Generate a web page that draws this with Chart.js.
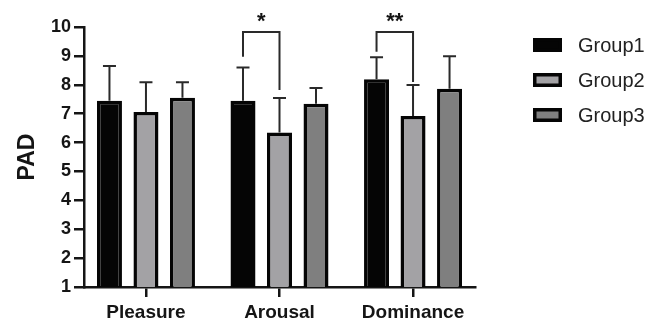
<!DOCTYPE html>
<html><head><meta charset="utf-8">
<script src="https://cdn.jsdelivr.net/npm/chart.js@4/dist/chart.umd.min.js"></script>
<style>html,body{margin:0;padding:0;background:#fff;overflow:hidden}#wrap{width:647px;height:323px}</style>
</head><body><div id="wrap"><canvas id="c" width="647" height="323"></canvas></div>
<script>
const categories = ['Pleasure', 'Arousal', 'Dominance'];
const groupNames = ['Group1', 'Group2', 'Group3'];
const group1Mean = [7.45, 7.45, 8.19];
const group2Mean = [7.06, 6.35, 6.92];
const group3Mean = [7.55, 7.34, 7.86];
const group1SD = [1.20, 1.15, 0.76];
const group2SD = [1.03, 1.19, 1.07];
const group3SD = [0.54, 0.55, 1.13];
const yTickValues = [1, 2, 3, 4, 5, 6, 7, 8, 9, 10];
const yTitle = 'PAD';
// significance brackets (between Group1 and Group2)
const sigCategory = [1, 2];
const sigLabel = ['*', '**'];
const sigTop = [9.83, 9.83];
const sigLeftFoot = [8.97, 9.14];
const sigRightFoot = [7.82, 8.10];

const FONT = '"Liberation Sans", Arial, Helvetica, sans-serif';
const INK = '#151515';
const fills = ['#050505', '#a3a2a5', '#7f7f7f'];
const means = [group1Mean, group2Mean, group3Mean];
const sds = [group1SD, group2SD, group3SD];
const catIndex = categories.map((c, i) => i);

const errorBarPlugin = {
  id: 'errorBars',
  afterDatasetsDraw(chart) {
    const ctx = chart.ctx, ys = chart.scales.y;
    ctx.save();
    ctx.strokeStyle = '#2a2a2a';
    ctx.lineWidth = 2;
    chart.data.datasets.forEach((ds, i) => {
      const meta = chart.getDatasetMeta(i);
      meta.data.forEach((el, j) => {
        const top = ys.getPixelForValue(means[i][j] + sds[i][j]);
        ctx.beginPath();
        ctx.moveTo(el.x, el.y);
        ctx.lineTo(el.x, top);
        ctx.moveTo(el.x - 6.5, top);
        ctx.lineTo(el.x + 6.5, top);
        ctx.stroke();
      });
    });
    sigCategory.forEach((c, k) => {
      const a = chart.getDatasetMeta(0).data[c];
      const b = chart.getDatasetMeta(1).data[c];
      const yt = ys.getPixelForValue(sigTop[k]);
      ctx.beginPath();
      ctx.moveTo(a.x, ys.getPixelForValue(sigLeftFoot[k]));
      ctx.lineTo(a.x, yt);
      ctx.lineTo(b.x, yt);
      ctx.lineTo(b.x, ys.getPixelForValue(sigRightFoot[k]));
      ctx.stroke();
      ctx.fillStyle = INK;
      ctx.font = 'bold 22px ' + FONT;
      ctx.textAlign = 'center';
      ctx.textBaseline = 'alphabetic';
      ctx.fillText(sigLabel[k], (a.x + b.x) / 2, yt - 4);
    });
    ctx.restore();
  }
};

const legendPlugin = {
  id: 'sideLegend',
  afterDraw(chart) {
    const ctx = chart.ctx;
    ctx.save();
    chart.data.datasets.forEach((ds, i) => {
      const cy = 45 + 35 * i;
      ctx.fillStyle = '#050505';
      ctx.fillRect(533, cy - 7, 29, 14);
      ctx.fillStyle = ds.backgroundColor;
      ctx.fillRect(536.5, cy - 3.5, 22, 7);
      ctx.fillStyle = '#222';
      ctx.font = '20px ' + FONT;
      ctx.textAlign = 'left';
      ctx.textBaseline = 'middle';
      ctx.fillText(ds.label, 578, cy + 1);
    });
    ctx.restore();
  }
};

new Chart(document.getElementById('c'), {
  type: 'bar',
  data: {
    datasets: groupNames.map((g, i) => ({
      label: g,
      data: catIndex.map(j => ({ x: j, y: means[i][j] })),
      backgroundColor: fills[i],
      borderColor: '#050505',
      borderWidth: 3.5,
      borderSkipped: false,
      categoryPercentage: 0.82,
      barPercentage: 0.685
    }))
  },
  options: {
    responsive: false,
    animation: false,
    devicePixelRatio: 1,
    layout: { padding: { top: 27, right: 172, bottom: 0, left: 0 } },
    plugins: { legend: { display: false }, tooltip: { enabled: false } },
    scales: {
      x: {
        type: 'linear',
        min: -0.464, max: 2.464,
        offset: false,
        afterFit(s) { s.height = 36; },
        afterBuildTicks(s) { s.ticks = catIndex.map(v => ({ value: v })); },
        grid: { offset: false, drawOnChartArea: false, tickLength: 10, color: INK, lineWidth: 2.5 },
        border: { color: INK, width: 2.5 },
        ticks: {
          color: INK, font: { family: FONT, size: 19, weight: 'bold' }, padding: 4, maxRotation: 0, autoSkip: false,
          callback: (v) => categories[v]
        }
      },
      y: {
        min: 1, max: 10,
        afterFit(s) { s.width = 84; },
        afterBuildTicks(s) { s.ticks = yTickValues.map(v => ({ value: v })); },
        grid: { drawOnChartArea: false, tickLength: 10, color: INK, lineWidth: 2.5 },
        border: { color: INK, width: 2.5 },
        ticks: { color: INK, font: { family: FONT, size: 18, weight: 'bold' }, padding: 3 },
        title: { display: true, text: yTitle, color: INK, font: { family: FONT, size: 23, weight: 'bold' }, padding: { top: 14, bottom: 0 } }
      }
    }
  },
  plugins: [errorBarPlugin, legendPlugin]
});
</script></body></html>
